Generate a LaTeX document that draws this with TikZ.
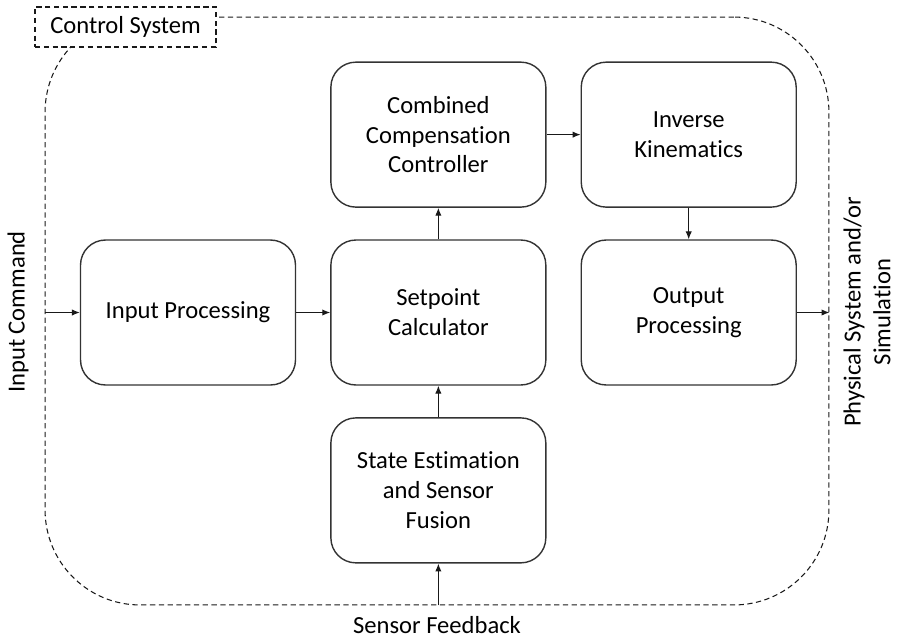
\documentclass[tikz,border=0pt]{standalone}
\usepackage{fontspec}
\setmainfont{Carlito}[Ligatures=CommonOff]
\usepackage{tikz}
\usetikzlibrary{shapes, arrows, arrows.meta, calc, positioning}

\begin{document}
\begin{tikzpicture}[>={Latex[length=4.5pt,width=3.6pt]}, x=0.02cm, y=-0.02cm, node distance=0.63cm and 0.68cm]
	\tikzstyle{block} = [draw=black!80, line width=0.8pt, rectangle, rounded corners=0.5cm, minimum width=4.3cm, minimum height=2.9cm, align=center, font=\fontsize{14}{17}\selectfont]
	\tikzstyle{frame} = [draw=black!90, line width=0.6pt, dash pattern=on 3pt off 2pt, rectangle, rounded corners=1.9cm, minimum width=15.68cm, minimum height=11.76cm]
	\tikzstyle{tag} = [draw=black!90, line width=0.7pt, dash pattern=on 3pt off 2pt, fill=white, minimum width=3.62cm, minimum height=0.8cm, font=\fontsize{14}{17}\selectfont]
	\tikzstyle{txt} = [align=center, font=\fontsize{14}{17}\selectfont]

	\useasboundingbox (0,0) rectangle (898,639);

	% system boundary and its title
	\node[frame] (sys) at (437,311) {};
	\node[tag] (title) at (125.5,27) {Control System};

	% processing blocks
	\node[block] (inproc) at (188,312.5) {Input Processing};
	\node[block, right=of inproc] (setpoint) {Setpoint\\Calculator};
	\node[block, above=of setpoint] (comb) {Combined\\Compensation\\Controller};
	\node[block, right=of comb] (invkin) {Inverse\\Kinematics};
	\node[block, below=of invkin] (outproc) {Output\\Processing};
	\node[block, below=of setpoint] (estim) {State Estimation\\and Sensor\\Fusion};

	% outside signals
	\node[txt, rotate=90] (cmd) at (18,312) {Input Command};
	\node[txt, rotate=90] (plant) at (867,312) {Physical System and/or\\Simulation};
	\node[txt] (fb) at (437,625) {Sensor Feedback};

	\path[->, line width=0.6pt, black!90]
		(sys.west |- inproc) edge (inproc)
		(inproc) edge (setpoint)
		(setpoint) edge (comb)
		(comb) edge (invkin)
		(invkin) edge (outproc)
		(estim) edge (setpoint)
		(sys.south -| estim) edge (estim)
		(outproc) edge (sys.east |- outproc)
	;
\end{tikzpicture}
\end{document}
